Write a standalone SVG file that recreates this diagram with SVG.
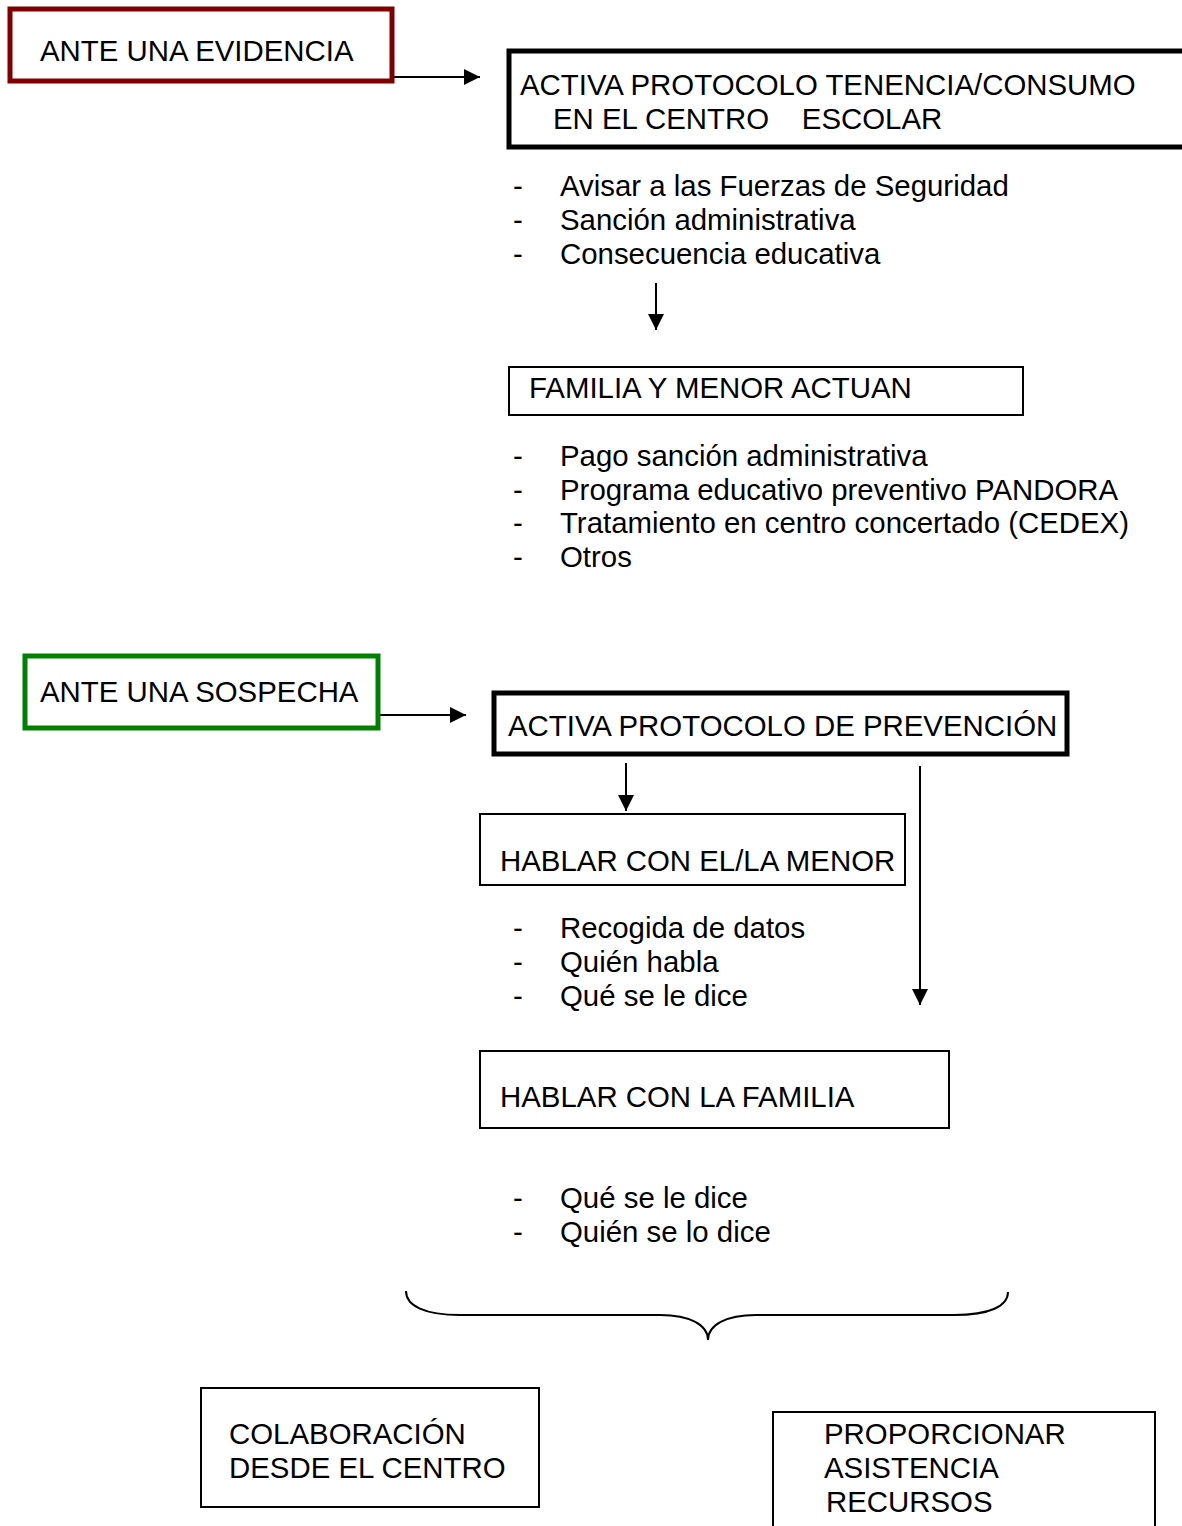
<svg xmlns="http://www.w3.org/2000/svg" width="1182" height="1526" viewBox="0 0 1182 1526">
<defs>
<marker id="ah" markerWidth="16" markerHeight="16" refX="16" refY="8" orient="auto" markerUnits="userSpaceOnUse">
<path d="M0,0 L16,8 L0,16 Z" fill="#000"/>
</marker>
<style>
text{font-family:"Liberation Sans",Arial,sans-serif;font-size:29.4px;fill:#000}
.thin{fill:#fff;stroke:#000;stroke-width:2}
.thick{fill:#fff;stroke:#000;stroke-width:5}
.conn{stroke:#000;stroke-width:2;fill:none}
</style>
</defs>
<rect width="1182" height="1526" fill="#fff"/>
<g id="connectors">
<line class="conn" x1="393" y1="77" x2="480" y2="77" marker-end="url(#ah)"/>
<line class="conn" x1="656" y1="283" x2="656" y2="330" marker-end="url(#ah)"/>
<line class="conn" x1="379" y1="715" x2="466" y2="715" marker-end="url(#ah)"/>
<line class="conn" x1="626" y1="763" x2="626" y2="811" marker-end="url(#ah)"/>
<line class="conn" x1="920" y1="766" x2="920" y2="1005" marker-end="url(#ah)"/>
<path class="conn" stroke-width="3" d="M406,1291 C406,1306 425,1315 460,1315 L660,1315 C690,1315 708,1325 708,1340 C708,1325 726,1315 756,1315 L954,1315 C990,1315 1008,1306 1008,1292"/>
</g>
<g id="evidencia">
<rect x="10" y="9" width="382" height="72" fill="#fff" stroke="#800000" stroke-width="5"/>
<text x="40" y="61">ANTE UNA EVIDENCIA</text>
</g>
<g id="protocolo-tenencia">
<rect class="thick" x="509" y="51" width="680" height="96"/>
<text x="520" y="95">ACTIVA PROTOCOLO TENENCIA/CONSUMO</text>
<text x="553" y="129" xml:space="preserve">EN EL CENTRO    ESCOLAR</text>
</g>
<g id="lista1">
<text x="513" y="196">-</text><text x="560" y="196">Avisar a las Fuerzas de Seguridad</text>
<text x="513" y="230">-</text><text x="560" y="230">Sanción administrativa</text>
<text x="513" y="264">-</text><text x="560" y="264">Consecuencia educativa</text>
</g>
<g id="familia-menor">
<rect class="thin" x="509" y="367" width="514" height="48"/>
<text x="529" y="398">FAMILIA Y MENOR ACTUAN</text>
</g>
<g id="lista2">
<text x="513" y="466">-</text><text x="560" y="466">Pago sanción administrativa</text>
<text x="513" y="500">-</text><text x="560" y="500">Programa educativo preventivo PANDORA</text>
<text x="513" y="533">-</text><text x="560" y="533">Tratamiento en centro concertado (CEDEX)</text>
<text x="513" y="567">-</text><text x="560" y="567">Otros</text>
</g>
<g id="sospecha">
<rect x="25" y="656" width="353" height="72" fill="#fff" stroke="#008000" stroke-width="5"/>
<text x="40" y="702">ANTE UNA SOSPECHA</text>
</g>
<g id="protocolo-prevencion">
<rect class="thick" x="494" y="693" width="573" height="61"/>
<text x="508" y="736">ACTIVA PROTOCOLO DE PREVENCIÓN</text>
</g>
<g id="hablar-menor">
<rect class="thin" x="480" y="814" width="425" height="71"/>
<text x="500" y="871">HABLAR CON EL/LA MENOR</text>
</g>
<g id="lista3">
<text x="513" y="938">-</text><text x="560" y="938">Recogida de datos</text>
<text x="513" y="972">-</text><text x="560" y="972">Quién habla</text>
<text x="513" y="1006">-</text><text x="560" y="1006">Qué se le dice</text>
</g>
<g id="hablar-familia">
<rect class="thin" x="480" y="1051" width="469" height="77"/>
<text x="500" y="1107">HABLAR CON LA FAMILIA</text>
</g>
<g id="lista4">
<text x="513" y="1208">-</text><text x="560" y="1208">Qué se le dice</text>
<text x="513" y="1242">-</text><text x="560" y="1242">Quién se lo dice</text>
</g>
<g id="colaboracion">
<rect class="thin" x="201" y="1388" width="338" height="119"/>
<text x="229" y="1444">COLABORACIÓN</text>
<text x="229" y="1478">DESDE EL CENTRO</text>
</g>
<g id="proporcionar">
<rect class="thin" x="773" y="1412" width="382" height="130"/>
<text x="824" y="1444">PROPORCIONAR</text>
<text x="824" y="1478">ASISTENCIA</text>
<text x="826" y="1512">RECURSOS</text>
</g>
</svg>
